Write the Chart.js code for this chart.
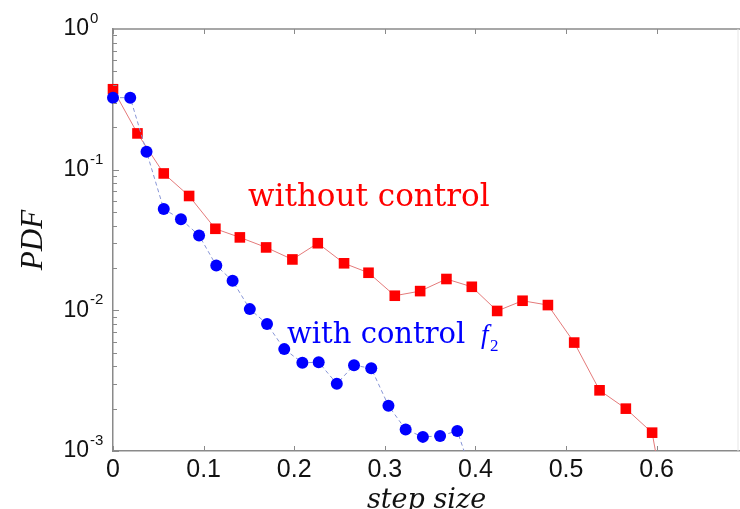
<!DOCTYPE html>
<html>
<head>
<meta charset="utf-8">
<script src="https://cdn.jsdelivr.net/npm/chart.js@4/dist/chart.umd.min.js"></script>
<style>
  html, body { margin: 0; padding: 0; background: #fff; }
  #wrap { width: 740px; height: 509px; position: relative; }
</style>
</head>
<body>
<div id="wrap"><canvas id="c"></canvas></div>
<script>
// ---- data ----
const redX = [0, 0.027, 0.056, 0.084, 0.113, 0.140, 0.169, 0.198, 0.226, 0.255, 0.282, 0.311, 0.339, 0.368, 0.396, 0.424, 0.452, 0.480, 0.509, 0.537, 0.566, 0.595, 0.622];
const redY = [0.373, 0.181, 0.094, 0.065, 0.038, 0.033, 0.028, 0.023, 0.030, 0.0216, 0.0185, 0.0127, 0.0137, 0.0167, 0.0147, 0.0099, 0.0117, 0.0109, 0.0059, 0.0027, 0.0020, 0.00135, 0.00015];

const blueX = [0, 0.019, 0.037, 0.056, 0.075, 0.095, 0.114, 0.132, 0.151, 0.170, 0.189, 0.209, 0.227, 0.247, 0.266, 0.285, 0.304, 0.323, 0.342, 0.361, 0.380, 0.399];
const blueY = [0.325, 0.325, 0.134, 0.0525, 0.0444, 0.0341, 0.0208, 0.0162, 0.0102, 0.0080, 0.0053, 0.00424, 0.00427, 0.00301, 0.00407, 0.00387, 0.0021, 0.00142, 0.00126, 0.00128, 0.00139, 0.0006];

const xTickVals = [0, 0.1, 0.2, 0.3, 0.4, 0.5, 0.6];
const xTickLabels = ['0', '0.1', '0.2', '0.3', '0.4', '0.5', '0.6'];
const yTickVals = [1, 0.1, 0.01, 0.001];
const yTickBase = '10';
const yTickExp = ['0', '-1', '-2', '-3'];

const redLabel = 'without control';
const blueLabel = 'with control';
const blueSym = 'f';
const blueSub = '2';
const xTitle = 'step size';
const yTitle = 'PDF';

// ---- chart ----
const toPts = (xs, ys) => xs.map((v, i) => ({ x: v, y: ys[i] }));
const AXIS = '#8a8a8a';

const decor = {
  id: 'decor',
  afterDraw(chart) {
    const { ctx, chartArea: a, scales: { x, y } } = chart;
    const line = (x1, y1, x2, y2) => { ctx.beginPath(); ctx.moveTo(x1, y1); ctx.lineTo(x2, y2); ctx.stroke(); };
    ctx.save();
    // top border and faint right border
    ctx.strokeStyle = AXIS; ctx.lineWidth = 1.5;
    line(a.left, a.top, a.right, a.top);
    ctx.strokeStyle = '#e6e6e6'; ctx.lineWidth = 1;
    line(a.right - 2, a.top, a.right - 2, a.bottom);
    // inward x tick marks (top & bottom)
    ctx.strokeStyle = AXIS; ctx.lineWidth = 1;
    xTickVals.forEach(v => {
      const px = Math.round(x.getPixelForValue(v)) + 0.5;
      line(px, a.bottom, px, a.bottom - 5);
      line(px, a.top, px, a.top + 5);
    });
    // inward y tick marks (log major + minor)
    for (let d = 0.001; d < 1; d *= 10) {
      for (let k = 1; k <= 9; k++) {
        const py = Math.round(y.getPixelForValue(k * d)) + 0.5;
        line(a.left, py, a.left + (k === 1 ? 6 : 4), py);
      }
    }
    // y tick labels 10^n
    ctx.fillStyle = '#111';
    yTickVals.forEach((v, i) => {
      const py = y.getPixelForValue(v);
      ctx.font = '23px "Liberation Sans", Arial, sans-serif';
      ctx.textAlign = 'right'; ctx.textBaseline = 'middle';
      ctx.fillText(yTickBase, a.left - 24, py);
      ctx.font = '15px "Liberation Sans", Arial, sans-serif';
      ctx.textAlign = 'left';
      ctx.fillText(yTickExp[i], a.left - 23, py - 10);
    });
    // annotations
    ctx.textAlign = 'left'; ctx.textBaseline = 'alphabetic';
    ctx.fillStyle = '#ff0000';
    ctx.font = '31px "DejaVu Serif", serif';
    ctx.fillText(redLabel, a.left + 135, a.top + 177);
    ctx.fillStyle = '#0000ff';
    ctx.font = '29px "DejaVu Serif", serif';
    ctx.fillText(blueLabel, a.left + 174, a.top + 314);
    ctx.font = 'italic 27px "Liberation Serif", serif';
    ctx.fillText(blueSym, a.left + 368, a.top + 314);
    ctx.font = '17px "Liberation Serif", serif';
    ctx.fillText(blueSub, a.left + 377, a.top + 322);
    ctx.restore();
  }
};

new Chart(document.getElementById('c'), {
  type: 'scatter',
  data: {
    datasets: [
      {
        label: 'with control',
        data: toPts(blueX, blueY),
        showLine: true,
        borderColor: '#8795d6',
        borderWidth: 1,
        borderDash: [4, 3],
        pointStyle: 'circle',
        pointRadius: 6,
        pointBackgroundColor: '#0000ff',
        pointBorderColor: '#0000ff',
        pointBorderWidth: 0,
        clip: { left: 12, top: 12, right: 12, bottom: 0 }
      },
      {
        label: 'without control',
        data: toPts(redX, redY),
        showLine: true,
        borderColor: '#e47a7a',
        borderWidth: 1,
        pointStyle: 'rect',
        pointRadius: 7.5,
        pointBackgroundColor: '#ff0000',
        pointBorderColor: '#ff0000',
        pointBorderWidth: 0,
        clip: { left: 12, top: 12, right: 12, bottom: 0 }
      }
    ]
  },
  options: {
    responsive: true,
    maintainAspectRatio: false,
    animation: false,
    events: [],
    layout: { autoPadding: false, padding: { top: 29, right: 0, left: 0, bottom: 0 } },
    plugins: { legend: { display: false }, tooltip: { enabled: false } },
    scales: {
      x: {
        type: 'linear',
        min: 0,
        max: 0.692,
        afterBuildTicks: s => { s.ticks = xTickVals.map(v => ({ value: v })); },
        afterFit: s => { s.height = 58; },
        grid: { display: false, drawTicks: false },
        border: { display: true, color: AXIS, width: 1.5 },
        ticks: {
          padding: 4,
          color: '#111',
          font: { family: '"Liberation Sans", Arial, sans-serif', size: 25 },
          callback: (v, i) => xTickLabels[i]
        },
        title: {
          display: true,
          text: xTitle,
          color: '#111',
          padding: { top: -5, bottom: -5 },
          font: { family: '"DejaVu Serif", serif', style: 'italic', size: 27, lineHeight: 1 }
        }
      },
      y: {
        type: 'logarithmic',
        min: 0.001,
        max: 1,
        afterBuildTicks: s => { s.ticks = yTickVals.map(v => ({ value: v })); },
        afterFit: s => { s.width = 113; },
        grid: { display: false, drawTicks: false },
        border: { display: true, color: AXIS, width: 1.5 },
        ticks: { display: false },
        title: {
          display: true,
          text: yTitle,
          color: '#111',
          padding: { top: 18, bottom: 18 },
          font: { family: '"Liberation Serif", serif', style: 'italic', size: 31, lineHeight: 1 }
        }
      }
    }
  },
  plugins: [decor]
});
</script>
</body>
</html>
